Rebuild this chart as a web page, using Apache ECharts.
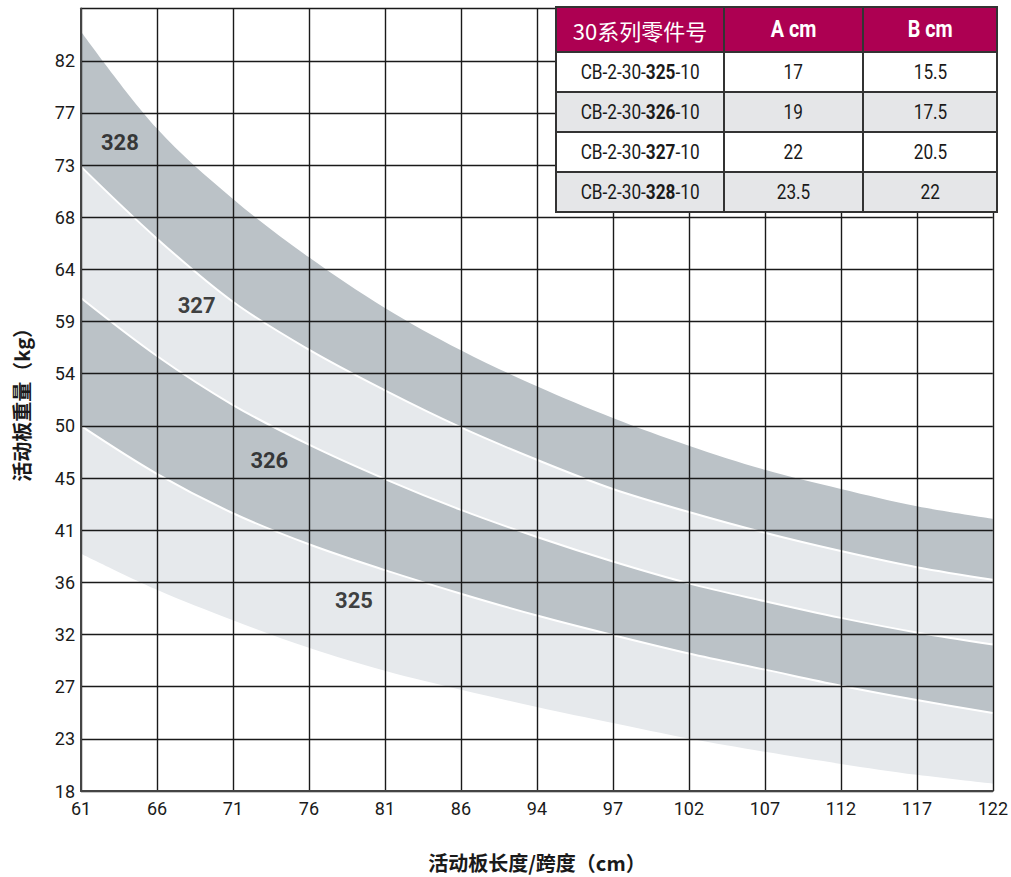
<!DOCTYPE html>
<html>
<head>
<meta charset="utf-8">
<script src="https://cdn.jsdelivr.net/npm/echarts/dist/echarts.min.js"></script>
<style>
  html, body { margin: 0; padding: 0; background: #fff; }
  #wrap { position: relative; width: 1011px; height: 877px; }
  #chart { position: absolute; left: 0; top: 0; width: 1011px; height: 877px; }
  #tbl {
    position: absolute; left: 555px; top: 6px; z-index: 5;
    border-collapse: collapse; table-layout: fixed; background: #fff;
    font-family: Roboto, sans-serif;
    color: #1a1a1a;
  }
  #tbl td, #tbl th { border: 2px solid #333; text-align: center; padding: 0; }
  #tbl th { background: #ad0052; color: #fff; height: 43px; font-size: 23px; font-weight: bold; }
  #tbl th.cjk { font-family: "Noto Sans CJK SC", sans-serif; font-weight: normal; font-size: 22px; }
  #tbl td { height: 38px; font-size: 20px; }
  #tbl tr.alt td { background: #e5e6e8; }
  #tbl .n { display: inline-block; transform: scaleX(0.86); white-space: nowrap; }
  #tbl b { font-weight: bold; }
</style>
</head>
<body>
<div id="wrap">
  <div id="chart"></div>
  <table id="tbl">
    <colgroup><col style="width:168px"><col style="width:139px"><col style="width:134px"></colgroup>
    <thead id="thead"></thead>
    <tbody id="tbody"></tbody>
  </table>
</div>
<script>
// ---------- data ----------
const xTickLabels = ['61','66','71','76','81','86','94','97','102','107','112','117','122'];
const yTickLabels = ['18','23','27','32','36','41','45','50','54','59','64','68','73','77','82',''];

// span (cm) at which the curves were read
const spanCm = [60.96, 66.04, 71.12, 76.2, 81.28, 86.36, 91.44, 96.52, 101.6, 106.68, 111.76, 116.84, 121.92];

// band boundaries (kg)
const max328 = [84.19, 75.75, 69.63, 64.55, 60.15, 56.47, 53.34, 50.58, 48.17, 46.08, 44.41, 42.91, 41.82];
const max327 = [72.44, 66.18, 60.69, 56.52, 52.98, 49.76, 46.95, 44.41, 42.41, 40.60, 39.01, 37.60, 36.51];
const max326 = [61.01, 55.97, 51.71, 48.26, 45.27, 42.59, 40.23, 38.10, 36.20, 34.65, 33.20, 31.93, 30.89];
const max325 = [49.89, 45.72, 42.30, 39.60, 37.35, 35.30, 33.40, 31.70, 30.10, 28.70, 27.30, 26.05, 24.92];
const min325 = [38.78, 35.65, 33.00, 30.60, 28.60, 26.95, 25.45, 24.05, 22.70, 21.55, 20.50, 19.55, 18.78];

// band name labels (anchor in data units: cm, kg)
const bandNames = ['328', '327', '326', '325'];
const bandLabelCm = [63.56, 68.69, 73.55, 79.21];
const bandLabelKg = [74.5, 60.34, 46.87, 34.71];

// table
const tableHeader = ['30系列零件号', 'A cm', 'B cm'];
const tableParts = ['325', '326', '327', '328'];
const tableA = ['17', '19', '22', '23.5'];
const tableB = ['15.5', '17.5', '20.5', '22'];

// ---------- axis scale (linear; ticks are 10 lb steps shown in kg) ----------
const yMin = 18.144, yStep = 4.536, yMax = 86.184;
const xMin = 60.96, xStep = 5.08, xMax = 121.92;

// ---------- table ----------
(function () {
  const th = document.getElementById('thead');
  th.innerHTML = '<tr>' + tableHeader.map((h, i) =>
    '<th' + (i === 0 ? ' class="cjk"' : '') + '>' + (i === 0 ? h : '<span class="n">' + h + '</span>') + '</th>').join('') + '</tr>';
  const tb = document.getElementById('tbody');
  tb.innerHTML = tableParts.map((p, i) =>
    '<tr' + (i % 2 === 1 ? ' class="alt"' : '') + '><td><span class="n">CB-2-30-<b>' + p + '</b>-10</span></td><td><span class="n">' +
    tableA[i] + '</span></td><td><span class="n">' + tableB[i] + '</span></td></tr>').join('');
})();

// ---------- chart ----------
const NARROW = 'Roboto, sans-serif';
const CJK = '"Noto Sans CJK SC", sans-serif';
const DARK = '#bbc2c7', LIGHT = '#e6e9ec';

function pts(arr) { return spanCm.map((x, i) => [x, arr[i]]); }
function band(name, arr, fill, lineW) {
  return {
    name: name, type: 'line', data: pts(arr), smooth: 0.35,
    symbol: 'none', silent: true,
    lineStyle: { color: lineW ? '#ffffff' : fill, width: lineW },
    areaStyle: { color: fill, opacity: 1, origin: 'start' },
    z: 2
  };
}

const chart = echarts.init(document.getElementById('chart'), null, { renderer: 'svg' });
chart.setOption({
  animation: false,
  backgroundColor: '#ffffff',
  grid: { left: 81, right: 15, top: 8.6, bottom: 85.3, containLabel: false },
  xAxis: {
    type: 'value', min: xMin, max: xMax, interval: xStep, z: 10,
    name: '活动板长度/跨度（cm）', nameLocation: 'middle', nameGap: 61,
    nameTextStyle: { fontFamily: CJK, fontSize: 20, fontWeight: 'bold', color: '#1a1a1a' },
    axisLine: { show: true, lineStyle: { color: '#444', width: 2 } },
    axisTick: { show: false },
    splitLine: { show: true, lineStyle: { color: '#1a1a1a', width: 1.4 } },
    axisLabel: {
      margin: 8, fontSize: 18, color: '#1a1a1a', fontFamily: NARROW,
      formatter: v => xTickLabels[Math.round((v - xMin) / xStep)] || ''
    }
  },
  yAxis: {
    type: 'value', min: yMin, max: yMax, interval: yStep, z: 10,
    name: '活动板重量（kg）', nameLocation: 'middle', nameGap: 50, nameRotate: 90,
    nameTextStyle: { fontFamily: CJK, fontSize: 20, fontWeight: 'bold', color: '#1a1a1a' },
    axisLine: { show: true, lineStyle: { color: '#444', width: 2 } },
    axisTick: { show: false },
    splitLine: { show: true, lineStyle: { color: '#1a1a1a', width: 1.4 } },
    axisLabel: {
      margin: 6, fontSize: 18, color: '#1a1a1a', fontFamily: NARROW,
      formatter: v => yTickLabels[Math.round((v - yMin) / yStep)] || ''
    }
  },
  series: [
    band('328', max328, DARK, 0),
    band('327', max327, LIGHT, 2),
    band('326', max326, DARK, 2),
    band('325', max325, LIGHT, 2),
    band('min', min325, '#ffffff', 0),
    {
      type: 'scatter', symbolSize: 0, silent: true, z: 20,
      data: bandNames.map((n, i) => ({ name: n, value: [bandLabelCm[i], bandLabelKg[i]] })),
      label: {
        show: true, position: 'inside', formatter: '{b}',
        fontFamily: NARROW, fontSize: 22, fontWeight: 'bold', color: '#111'
      }
    }
  ]
});
</script>
</body>
</html>
